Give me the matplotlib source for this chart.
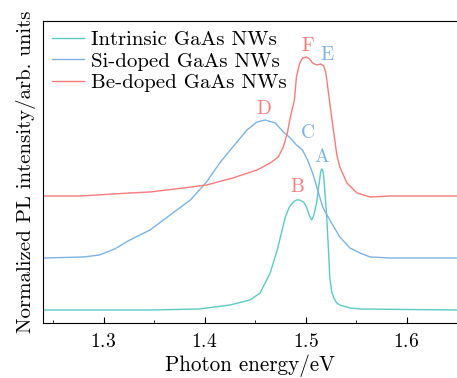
import matplotlib
matplotlib.use('Agg')
import matplotlib.pyplot as plt
from matplotlib.ticker import MultipleLocator

plt.rcParams['font.family'] = 'serif'
plt.rcParams['font.serif'] = ['cmr10', 'DejaVu Serif']
plt.rcParams['mathtext.fontset'] = 'cm'
plt.rcParams['axes.formatter.use_mathtext'] = True

# 本征 GaAs 纳米线
e_int = [1.240, 1.296, 1.346, 1.395, 1.425, 1.445, 1.455, 1.465, 1.472, 1.480,
         1.484, 1.488, 1.491, 1.494, 1.498, 1.501, 1.504, 1.506, 1.508, 1.511,
         1.513, 1.515, 1.516, 1.517, 1.518, 1.519, 1.521, 1.523, 1.524, 1.526,
         1.528, 1.531, 1.534, 1.544, 1.554, 1.650]
i_int = [13, 13, 13, 14, 18, 23, 30, 50, 73, 106,
         116, 121, 123, 123, 121, 116, 107, 103, 107, 120,
         136, 151, 154, 153, 147, 133, 106, 68, 46, 31,
         25, 20, 18, 15, 14, 13]

# Si 掺杂
e_si = [1.240, 1.280, 1.296, 1.311, 1.326, 1.346, 1.366, 1.386, 1.402, 1.415,
        1.428, 1.442, 1.452, 1.460, 1.470, 1.478, 1.485, 1.491, 1.497, 1.502,
        1.507, 1.512, 1.517, 1.524, 1.534, 1.544, 1.554, 1.564, 1.584, 1.650]
i_si = [65, 66, 68, 74, 83, 93, 108, 123, 141, 160,
        176, 193, 201, 203, 200, 191, 185, 178, 173, 163,
        150, 133, 116, 103, 86, 75, 70, 66, 65, 65]

# Be 掺杂
e_be = [1.240, 1.277, 1.326, 1.346, 1.379, 1.402, 1.428, 1.452, 1.465, 1.473,
        1.478, 1.482, 1.485, 1.489, 1.491, 1.494, 1.497, 1.501, 1.504, 1.507,
        1.511, 1.515, 1.518, 1.520, 1.522, 1.524, 1.526, 1.529, 1.531, 1.534,
        1.541, 1.551, 1.564, 1.584, 1.650]
i_be = [127, 127, 130, 131, 135, 138, 145, 153, 160, 166,
        176, 190, 206, 223, 246, 259, 265, 266, 264, 260,
        258, 259, 257, 251, 236, 220, 205, 183, 168, 156,
        140, 130, 126, 127, 127]

labels = ['Intrinsic GaAs NWs', 'Si-doped GaAs NWs', 'Be-doped GaAs NWs']
c_int = '#5ec9c3'
c_si = '#7db3e2'
c_be = '#f77b7b'

# 峰标注
peak_names = ['A', 'B', 'C', 'D', 'E', 'F']
peak_e = [1.516, 1.492, 1.502, 1.459, 1.521, 1.502]
peak_i = [166, 136, 190, 214, 268, 277]
peak_c = [c_si, c_be, c_si, c_be, c_si, c_be]

fig = plt.figure(figsize=(4.57, 3.78), dpi=100)
ax = fig.add_axes([0.094, 0.1455, 0.906, 0.799])

ax.plot(e_int, i_int, color=c_int, lw=1.0, label=labels[0])
ax.plot(e_si, i_si, color=c_si, lw=1.0, label=labels[1])
ax.plot(e_be, i_be, color=c_be, lw=1.0, label=labels[2])

for name, x, y, c in zip(peak_names, peak_e, peak_i, peak_c):
    ax.text(x, y, name, color=c, fontsize=14, ha='center', va='center')

ax.set_xlim(1.24, 1.65)
ax.set_ylim(0, 302)
ax.xaxis.set_major_locator(MultipleLocator(0.1))
ax.xaxis.set_minor_locator(MultipleLocator(0.05))
ax.tick_params(axis='x', direction='in', labelsize=14, length=4, pad=7)
ax.tick_params(axis='x', which='minor', direction='in', length=2.5)
ax.set_yticks([])
ax.spines['right'].set_visible(False)
ax.set_xlabel('Photon energy/eV', fontsize=15.2, labelpad=3)
ax.set_ylabel('Normalized PL intensity/arb. units', fontsize=15, labelpad=5)

ax.legend(loc='upper left', frameon=False, fontsize=15, handlelength=1.5,
          borderpad=0.1, borderaxespad=0.35, labelspacing=0.15,
          handletextpad=0.35)

plt.savefig('out.png', dpi=100)
